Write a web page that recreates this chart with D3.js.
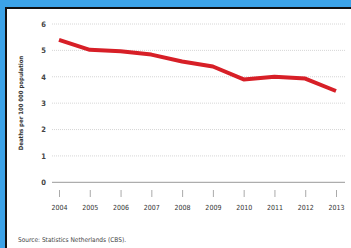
<!DOCTYPE html>
<html>
<head>
<meta charset="utf-8">
<script src="https://cdn.jsdelivr.net/npm/d3@7"></script>
<style>
  body { margin: 0; background: #3ca3e8; }
  svg { display: block; }
</style>
</head>
<body>
<svg></svg>
<script>
const years = [2004, 2005, 2006, 2007, 2008, 2009, 2010, 2011, 2012, 2013];
const deaths = [5.4, 5.02, 4.97, 4.84, 4.58, 4.39, 3.9, 4.0, 3.93, 3.46];
const yTicks = [0, 1, 2, 3, 4, 5, 6];

const svgWidth = 351;
const svgHeight = 248;
const font = "'Liberation Sans Narrow', 'DejaVu Sans Condensed', sans-serif";

const svg = d3.select("svg")
  .attr("width", svgWidth)
  .attr("height", svgHeight);

// blue frame + black edge
svg.append("rect").attr("width", svgWidth).attr("height", svgHeight).attr("fill", "#3ca3e8");
svg.append("rect").attr("x", 5).attr("y", 7).attr("width", svgWidth - 5).attr("height", svgHeight - 7).attr("fill", "#111");
svg.append("rect").attr("x", 7).attr("y", 9).attr("width", svgWidth - 7).attr("height", svgHeight - 9).attr("fill", "#fff");

const xScale = d3.scalePoint()
  .domain(years)
  .range([59, 336]);

const yScale = d3.scaleLinear()
  .domain([0, 6])
  .range([182.3, 24]);

// gridlines
svg.append("g")
  .selectAll("line")
  .data(yTicks)
  .join("line")
  .attr("x1", 52)
  .attr("x2", 345)
  .attr("y1", d => yScale(d))
  .attr("y2", d => yScale(d))
  .attr("stroke", d => d === 0 ? "#999" : "#ccc")
  .attr("stroke-width", d => d === 0 ? 1 : 0.8)
  .attr("stroke-dasharray", d => d === 0 ? null : "1,1");

// y labels
const yAxis = d3.axisLeft(yScale).tickValues(yTicks).tickFormat(d3.format("d")).tickSize(0).tickPadding(0);
const gy = svg.append("g")
  .attr("transform", "translate(46,0)")
  .call(yAxis);
gy.select(".domain").remove();
gy.selectAll("text")
  .attr("font-family", font)
  .attr("font-size", 7.5)
  .attr("font-weight", "bold")
  .attr("fill", "#444");

// x axis
const xAxis = d3.axisBottom(xScale).tickSize(7).tickPadding(8);
const gx = svg.append("g")
  .attr("transform", "translate(0,190)")
  .call(xAxis);
gx.select(".domain").remove();
gx.selectAll("line").attr("stroke", "#aaa");
gx.selectAll("text")
  .attr("font-family", font)
  .attr("font-size", 7)
  .attr("fill", "#333");

// axis title
svg.append("text")
  .attr("transform", "translate(23,103) rotate(-90)")
  .attr("text-anchor", "middle")
  .attr("font-family", font)
  .attr("font-size", 6)
  .attr("font-weight", "bold")
  .attr("fill", "#333")
  .text("Deaths per 100 000 population");

// line
const line = d3.line()
  .x((d, i) => xScale(years[i]))
  .y(d => yScale(d));

svg.append("path")
  .datum(deaths)
  .attr("d", line)
  .attr("fill", "none")
  .attr("stroke", "#d71f27")
  .attr("stroke-width", 4)
  .attr("stroke-linejoin", "round");

// source
svg.append("text")
  .attr("x", 18)
  .attr("y", 242)
  .attr("font-family", font)
  .attr("font-size", 6.5)
  .attr("fill", "#444")
  .text("Source: Statistics Netherlands (CBS).");
</script>
</body>
</html>
